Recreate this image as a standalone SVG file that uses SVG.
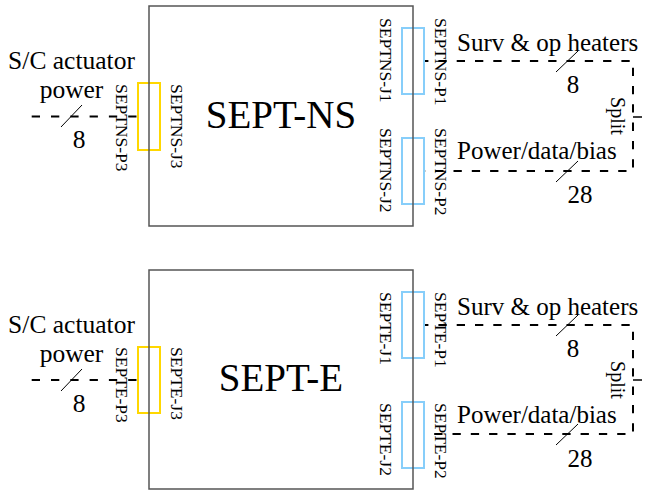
<svg xmlns="http://www.w3.org/2000/svg" width="649" height="491" viewBox="0 0 649 491">
<style>
text{font-family:"Liberation Serif","Times New Roman",serif;fill:#000}
.box{fill:none;stroke:#555;stroke-width:1.5}
.pj{fill:none;stroke:#87cefa;stroke-width:2}
.pa{fill:none;stroke:#ffd700;stroke-width:2}
.w{fill:none;stroke:#000;stroke-width:2}
.wl{stroke-dasharray:8.3 11}
.wr{stroke-dasharray:8.3 10;stroke-dashoffset:4.9}
.t{stroke:#000;stroke-width:1.5}
.s{stroke:#000;stroke-width:1}
.big{font-size:39px;text-anchor:middle}
.lab{font-size:25px}
.sc{font-size:25.5px;text-anchor:middle}
.m{text-anchor:middle}
.c{font-size:17.5px}
.sp{font-size:20px;text-anchor:middle}
</style>
<g id="connectors">
<path class="w wl" d="M31.7 116.5H138"/>
<path class="w wr" d="M425 61H633V171H425"/>
<line class="t" x1="633" y1="117" x2="642" y2="117"/>
<path class="w wl" d="M31.7 380H138"/>
<path class="w wr" d="M425 325H633V434H425"/>
<line class="t" x1="633" y1="380" x2="642" y2="380"/>
<line class="s" x1="61" y1="127" x2="82" y2="105"/>
<line class="s" x1="556" y1="72" x2="578" y2="51"/>
<line class="s" x1="556" y1="182" x2="578" y2="161"/>
<line class="s" x1="61" y1="391" x2="82" y2="369"/>
<line class="s" x1="556" y1="336" x2="578" y2="315"/>
<line class="s" x1="556" y1="445" x2="578" y2="424"/>
<text class="sc" x="71.5" y="69">S/C actuator<tspan x="71.5" y="97.5">power</tspan></text>
<text class="sc" x="79" y="148">8</text>
<text class="lab" x="457" y="51">Surv &amp; op heaters</text>
<text class="lab m" x="573" y="93">8</text>
<text class="lab" x="457" y="159">Power/data/bias</text>
<text class="lab m" x="580" y="203">28</text>
<text class="sp" transform="translate(611,116) rotate(90)">Split</text>
<text class="sc" x="71.5" y="333">S/C actuator<tspan x="71.5" y="361.5">power</tspan></text>
<text class="sc" x="79" y="412">8</text>
<text class="lab" x="457" y="315">Surv &amp; op heaters</text>
<text class="lab m" x="573" y="357">8</text>
<text class="lab" x="457" y="423">Power/data/bias</text>
<text class="lab m" x="580" y="467">28</text>
<text class="sp" transform="translate(611,380) rotate(90)">Split</text>
</g>
<g id="sept-ns">
<rect class="pa" x="138" y="83" width="22" height="67"/>
<rect class="pj" x="402" y="28" width="22" height="66"/>
<rect class="pj" x="402" y="138" width="22" height="66"/>
<rect class="box" x="149" y="6" width="264" height="220"/>
<text class="big" x="281" y="128">SEPT-NS</text>
<text class="c" transform="translate(116,84) rotate(90)">SEPTNS-P3</text>
<text class="c" transform="translate(171,84) rotate(90)">SEPTNS-J3</text>
<text class="c" transform="translate(380,18) rotate(90)">SEPTNS-J1</text>
<text class="c" transform="translate(435,18) rotate(90)">SEPTNS-P1</text>
<text class="c" transform="translate(380,128) rotate(90)">SEPTNS-J2</text>
<text class="c" transform="translate(435,128) rotate(90)">SEPTNS-P2</text>
</g>
<g id="sept-e">
<rect class="pa" x="138" y="347" width="22" height="66"/>
<rect class="pj" x="402" y="292" width="22" height="66"/>
<rect class="pj" x="402" y="402" width="22" height="66"/>
<rect class="box" x="149" y="270" width="264" height="219"/>
<text class="big" x="281" y="391">SEPT-E</text>
<text class="c" transform="translate(116,347) rotate(90)">SEPTE-P3</text>
<text class="c" transform="translate(171,347) rotate(90)">SEPTE-J3</text>
<text class="c" transform="translate(380,292) rotate(90)">SEPTE-J1</text>
<text class="c" transform="translate(435,292) rotate(90)">SEPTE-P1</text>
<text class="c" transform="translate(380,403) rotate(90)">SEPTE-J2</text>
<text class="c" transform="translate(435,403) rotate(90)">SEPTE-P2</text>
</g>
</svg>
